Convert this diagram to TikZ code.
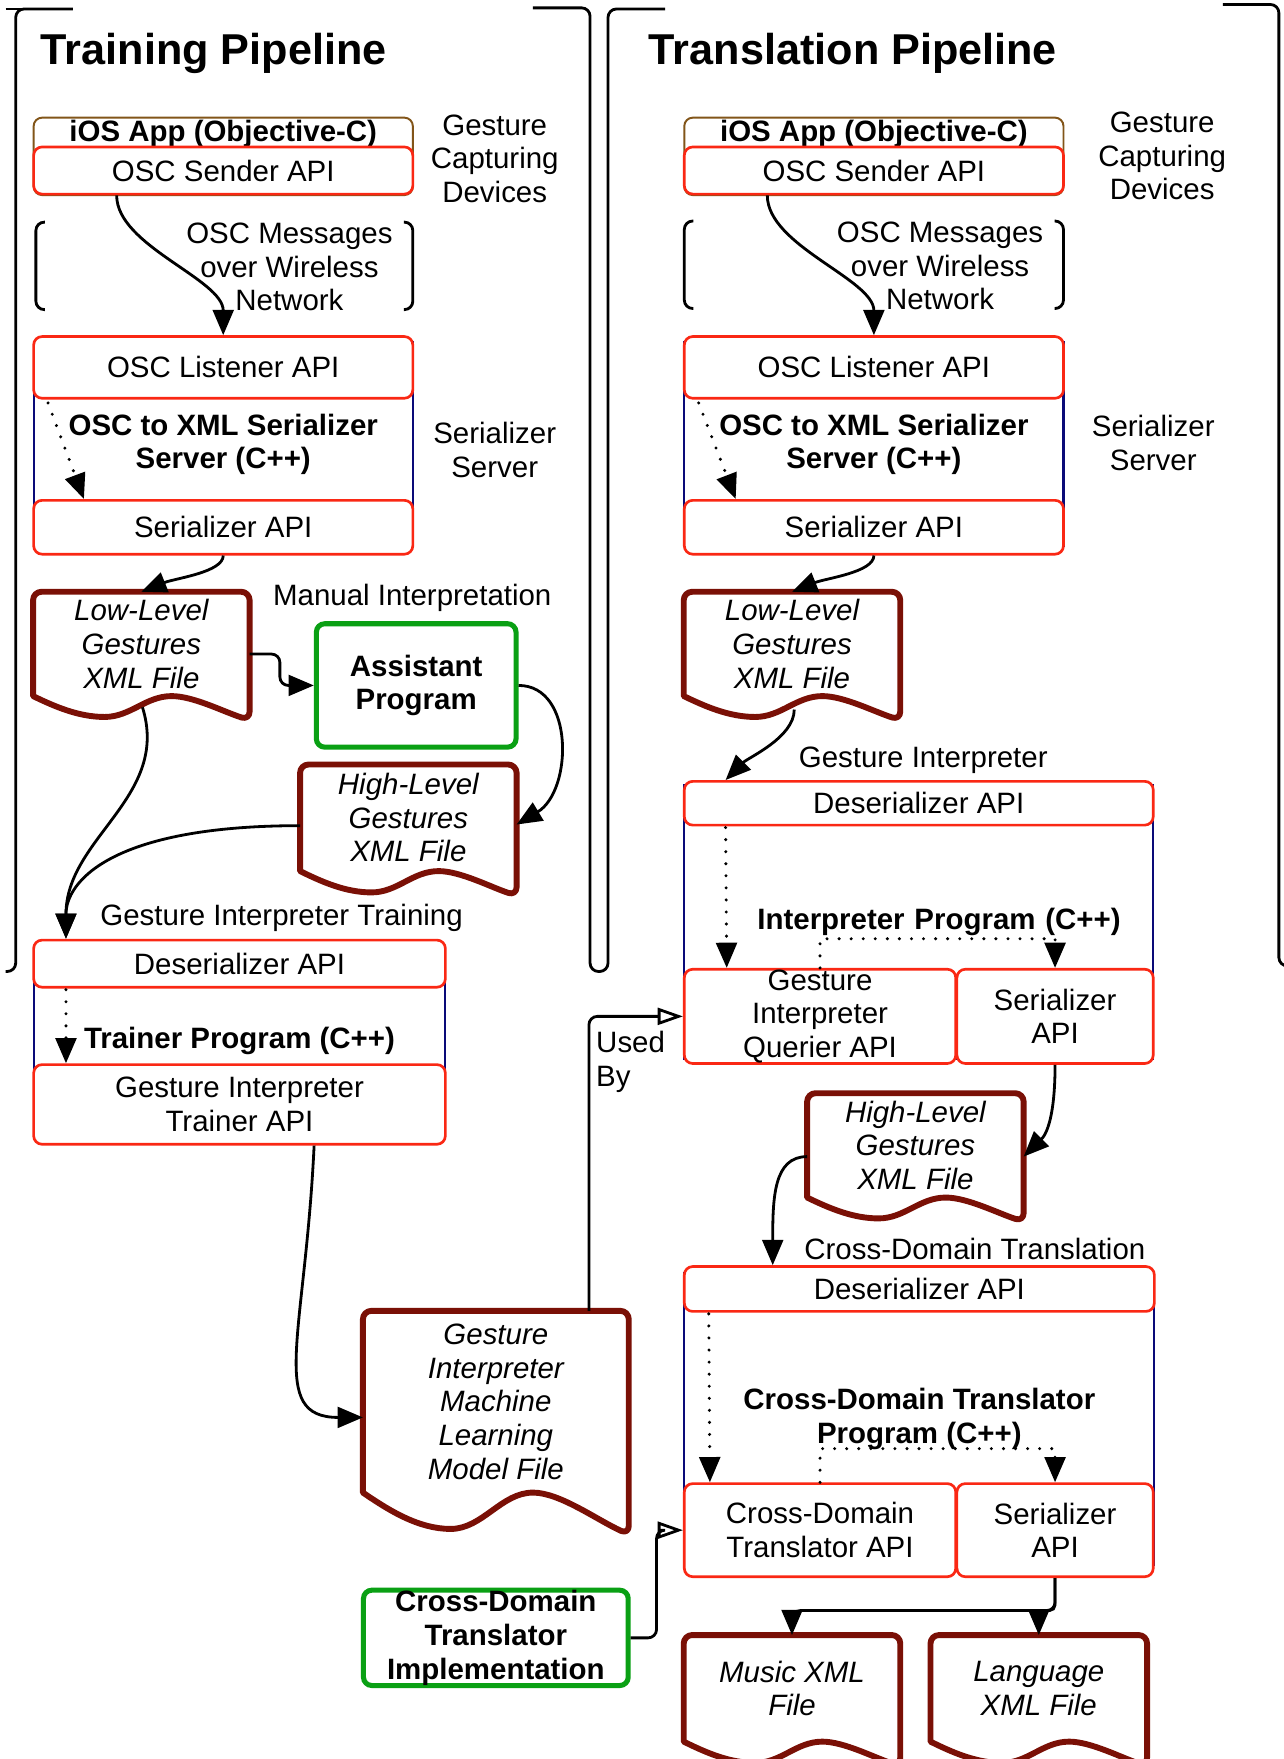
\documentclass[tikz,border=0pt]{standalone}
\usepackage{fontspec}
\setmainfont{Liberation Sans}
\usetikzlibrary{arrows.meta,calc}

\definecolor{apired}{RGB}{250,40,20}
\definecolor{docred}{RGB}{122,16,6}
\definecolor{toolgreen}{RGB}{10,160,20}
\definecolor{progblue}{RGB}{10,10,120}
\definecolor{appbrown}{RGB}{130,85,25}

\newcommand{\boxfont}{\fontsize{10.5}{12}\selectfont}
\newcommand{\titlefont}{\fontsize{15.4}{18}\selectfont\bfseries}

% wavy bottom of a file node
\newcommand{\docwave}[1]{%
  \draw[docline] let \p1=(#1.north west), \p2=(#1.south east),
      \n1={\x2-\x1}, \n2={\y1-\y2} in
    (\x1,\y2) [rounded corners=3pt] -- (\x1,\y1) -- (\x2,\y1) -- ({\x2},{\y2-0.23*\n2}) [sharp corners]
    .. controls ({\x1+0.88*\n1},{\y2-0.15*\n2}) and ({\x1+0.74*\n1},{\y2}) .. ({\x1+0.64*\n1},{\y2})
    .. controls ({\x1+0.52*\n1},{\y2}) and ({\x1+0.45*\n1},{\y2-0.2*\n2}) .. ({\x1+0.33*\n1},{\y2-0.2*\n2})
    .. controls ({\x1+0.21*\n1},{\y2-0.2*\n2}) and ({\x1+0.1*\n1},{\y2-0.1*\n2}) .. (\x1,\y2) -- cycle;}

\tikzset{
  every node/.style={font=\boxfont, align=center},
  apibox/.style={draw=apired, line width=0.95pt, rounded corners=3pt, fill=white, inner sep=0pt},
  progbox/.style={draw=progblue, line width=0.8pt, inner sep=0pt, font=\boxfont\bfseries},
  appbox/.style={draw=appbrown, line width=0.7pt, rounded corners=3pt, inner sep=0pt, font=\boxfont\bfseries},
  toolbox/.style={draw=toolgreen, line width=1.8pt, rounded corners=3pt, inner sep=0pt, font=\boxfont\bfseries},
  docfile/.style={inner sep=0pt, minimum width=76.8pt, font=\boxfont\itshape},
  docline/.style={draw=docred, line width=2.1pt, line join=round},
  flow/.style={line width=1pt, -{Triangle[length=9pt,width=7.4pt]}},
  calls/.style={line width=1.2pt, line cap=round, dash pattern=on 0pt off 4.3pt, -{Triangle[length=9pt,width=7.4pt]}},
  usedby/.style={line width=1pt, rounded corners=3pt, -{Triangle[open,length=9pt,width=6pt]}},
  frame/.style={line width=1pt, rounded corners=3pt},
}

\begin{document}
\begin{tikzpicture}[x=0.4pt, y=-0.4pt]
    \fill[white] (0,0) rectangle (1144,1568);
    \useasboundingbox (0,0) rectangle (1144,1568);

    % pipeline brackets
    \draw[frame] (65,8) -- (14,8) -- (14,866) -- (5,866);
    \draw[line width=1pt] (5,8) -- (30,8);
    \draw[frame] (475,7) -- (526,7) -- (526,866) -- (542,866) -- (542,8) -- (593,8);
    \draw[frame] (1090,4) -- (1140,4) -- (1140,861) -- (1152,861);

    \node[anchor=base west, font=\titlefont, inner sep=0pt] (trainTitle) at (36,57.5) {Training Pipeline};
    \node[anchor=base west, font=\titlefont, inner sep=0pt] (transTitle) at (578,57.5) {Translation Pipeline};

    %% training pipeline
    \node[appbox, anchor=north, minimum width=135.2pt, text height=8.6pt, text depth=19pt] (appA) at (199,104) {iOS App (Objective-C)};
    \node[apibox, minimum width=135.2pt, minimum height=16.8pt] (sendA) at (199,152) {OSC Sender API};
    \node (capA) at (441,141.5) {Gesture\\Capturing\\Devices};

    \node (netA) at (258,238) {OSC Messages\\over Wireless\\Network};
    \draw[frame] (40,198) -- (32,198) -- (32,276) -- (40,276);
    \draw[frame] (360,198) -- (368,198) -- (368,276) -- (360,276);

    \node[progbox, minimum width=135.2pt, minimum height=72.8pt] (srvA) at (199,396) {OSC to XML Serializer\\Server (C++)};
    \node[apibox, minimum width=135.2pt, minimum height=22pt] (listenA) at (199,327.5) {OSC Listener API};
    \node[apibox, minimum width=135.2pt, minimum height=19.2pt] (serA) at (199,470) {Serializer API};
    \node (srvlabA) at (441,401) {Serializer\\Server};

    \node[docfile, minimum height=36.8pt] (lowA) at (126,574) {Low-Level\\Gestures\\XML File};
    \docwave{lowA}

    \node (manual) at (367.5,533) {Manual Interpretation};
    \node[toolbox, minimum width=71.2pt, minimum height=44pt] (asstA) at (371,611) {Assistant\\Program};

    \node[docfile, minimum height=37.6pt] (highA) at (364,729) {High-Level\\Gestures\\XML File};
    \docwave{highA}

    \node (gitrain) at (251,818) {Gesture Interpreter Training};
    \node[progbox, minimum width=146.8pt, minimum height=66pt] (trainA) at (213.5,927.5) {Trainer Program (C++)};
    \node[apibox, minimum width=146.8pt, minimum height=16.8pt] (deserA) at (213.5,859) {Deserializer API};
    \node[apibox, minimum width=146.8pt, minimum height=28.4pt] (trnA) at (213.5,984.5) {Gesture Interpreter\\Trainer API};

    \node[docfile, minimum width=94.4pt, minimum height=64.4pt] (modelA) at (442,1249.5) {Gesture\\Interpreter\\Machine\\Learning\\Model File};
    \docwave{modelA}

    \node[toolbox, minimum width=94.4pt, minimum height=34pt] (implA) at (442,1460) {Cross-Domain\\Translator\\Implementation};

    \node[anchor=north west, align=left, inner sep=0pt] (usedBy) at (531,919) {Used\\By};

    %% translation pipeline
    \node[appbox, anchor=north, minimum width=135.2pt, text height=8.6pt, text depth=19pt] (appB) at (779,104) {iOS App (Objective-C)};
    \node[apibox, minimum width=135.2pt, minimum height=16.8pt] (sendB) at (779,152) {OSC Sender API};
    \node (capB) at (1036,139) {Gesture\\Capturing\\Devices};

    \node (netB) at (838,237) {OSC Messages\\over Wireless\\Network};
    \draw[frame] (618,197) -- (610,197) -- (610,275) -- (618,275);
    \draw[frame] (940,197) -- (948,197) -- (948,275) -- (940,275);

    \node[progbox, minimum width=135.2pt, minimum height=72.8pt] (srvB) at (779,396) {OSC to XML Serializer\\Server (C++)};
    \node[apibox, minimum width=135.2pt, minimum height=22pt] (listenB) at (779,327.5) {OSC Listener API};
    \node[apibox, minimum width=135.2pt, minimum height=19.2pt] (serB) at (779,470) {Serializer API};
    \node (srvlabB) at (1028,395) {Serializer\\Server};

    \node[docfile, minimum height=36.8pt] (lowB) at (706,574) {Low-Level\\Gestures\\XML File};
    \docwave{lowB}

    \node (giB) at (823,677.5) {Gesture Interpreter};
    \node[progbox, minimum width=167.2pt, minimum height=97.6pt, text width=144pt, align=right] (interpB) at (819,822) {Interpreter Program (C++)};
    \node[apibox, minimum width=167.2pt, minimum height=15.6pt] (deserB) at (819,716) {Deserializer API};
    \node[apibox, minimum width=96.8pt, minimum height=33.6pt] (querB) at (731,906) {Gesture\\Interpreter\\Querier API};
    \node[apibox, minimum width=70pt, minimum height=33.6pt] (serIB) at (940.5,906) {Serializer\\API};

    \node[docfile, minimum height=36.8pt] (highB) at (816,1021) {High-Level\\Gestures\\XML File};
    \docwave{highB}

    \node (cdt) at (869,1113) {Cross-Domain Translation};
    \node[progbox, minimum width=167.6pt, minimum height=104pt] (transB) at (819.5,1265) {Cross-Domain Translator\\Program (C++)};
    \node[apibox, minimum width=167.6pt, minimum height=16pt] (deserC) at (819.5,1149) {Deserializer API};
    \node[apibox, minimum width=96.8pt, minimum height=33.2pt] (ctApi) at (731,1364) {Cross-Domain\\Translator API};
    \node[apibox, minimum width=70pt, minimum height=33.2pt] (serCB) at (940.5,1364) {Serializer\\API};

    \node[docfile, minimum height=37.6pt] (musicB) at (706,1505) {Music XML\\File};
    \docwave{musicB}
    \node[docfile, minimum height=37.6pt] (langB) at (926,1505) {Language\\XML File};
    \docwave{langB}

    %% connectors
    \draw[flow] ($(sendA.south)+(-95,0)$) .. controls +(0,45) and +(0,-50) .. (listenA.north);
    \draw[calls] ($(listenA.south west)+(14,3)$) -- ($(serA.north west)+(46,0)$);
    \draw[flow] (serA.south) .. controls +(0,15) and +(30,-12) .. (lowA.north);
    \draw[flow, rounded corners=3pt] ($(lowA.east)+(0,9)$) -- ++(27,0) |- (asstA.west);
    \draw[flow] (asstA.east) .. controls +(50,0) and +(50,-30) .. ($(highA.east)+(0,6)$);
    \draw[flow] ($(highA.west)+(0,7)$) .. controls +(-170,0) and +(0,-50) .. ($(deserA.north west)+(30,0)$);
    \draw[flow] ($(lowA.south)+(1,10)$) .. controls +(25,80) and +(0,-90) .. ($(deserA.north west)+(30,0)$);
    \draw[calls] ($(deserA.south west)+(30,1)$) -- ($(trnA.north west)+(30,0)$);
    \draw[flow] ($(trnA.south)+(66.5,0)$) .. controls +(-8,170) and +(-85,0) .. ($(modelA.west)+(0,14)$);
    \draw[usedby] ($(modelA.north)+(83,0)$) |- (querB.west);
    \draw[usedby] (implA.east) -- ++(23,0) |- (ctApi.west);

    \draw[flow] ($(sendB.south)+(-95,0)$) .. controls +(0,45) and +(0,-50) .. (listenB.north);
    \draw[calls] ($(listenB.south west)+(14,3)$) -- ($(serB.north west)+(47,0)$);
    \draw[flow] (serB.south) .. controls +(0,15) and +(30,-12) .. (lowB.north);
    \draw[flow] ($(lowB.south)+(2,12)$) .. controls +(0,25) and +(20,-20) .. ($(deserB.north west)+(38,0)$);
    \draw[calls] ($(deserB.south west)+(38,1)$) -- ($(querB.north west)+(39,0)$);
    \draw[calls] (querB.north) -- ++(0,-26) -| (serIB.north);
    \draw[flow] (serIB.south) .. controls +(0,60) and +(15,-15) .. ($(highB.east)+(0,10)$);
    \draw[flow] ($(highB.west)+(0,10)$) .. controls +(-30,0) and +(0,-60) .. ($(deserC.north west)+(80,0)$);
    \draw[calls] ($(deserC.south west)+(23,1)$) -- ($(ctApi.north west)+(24,0)$);
    \draw[calls] (ctApi.north) -- ++(0,-30) -| (serCB.north);
    \draw[flow, rounded corners=3pt] (serCB.south) -- ++(0,29) -| (musicB.north);
    \draw[flow, rounded corners=2pt] (serCB.south) -- ++(0,29) -| (langB.north);

\end{tikzpicture}
\end{document}
